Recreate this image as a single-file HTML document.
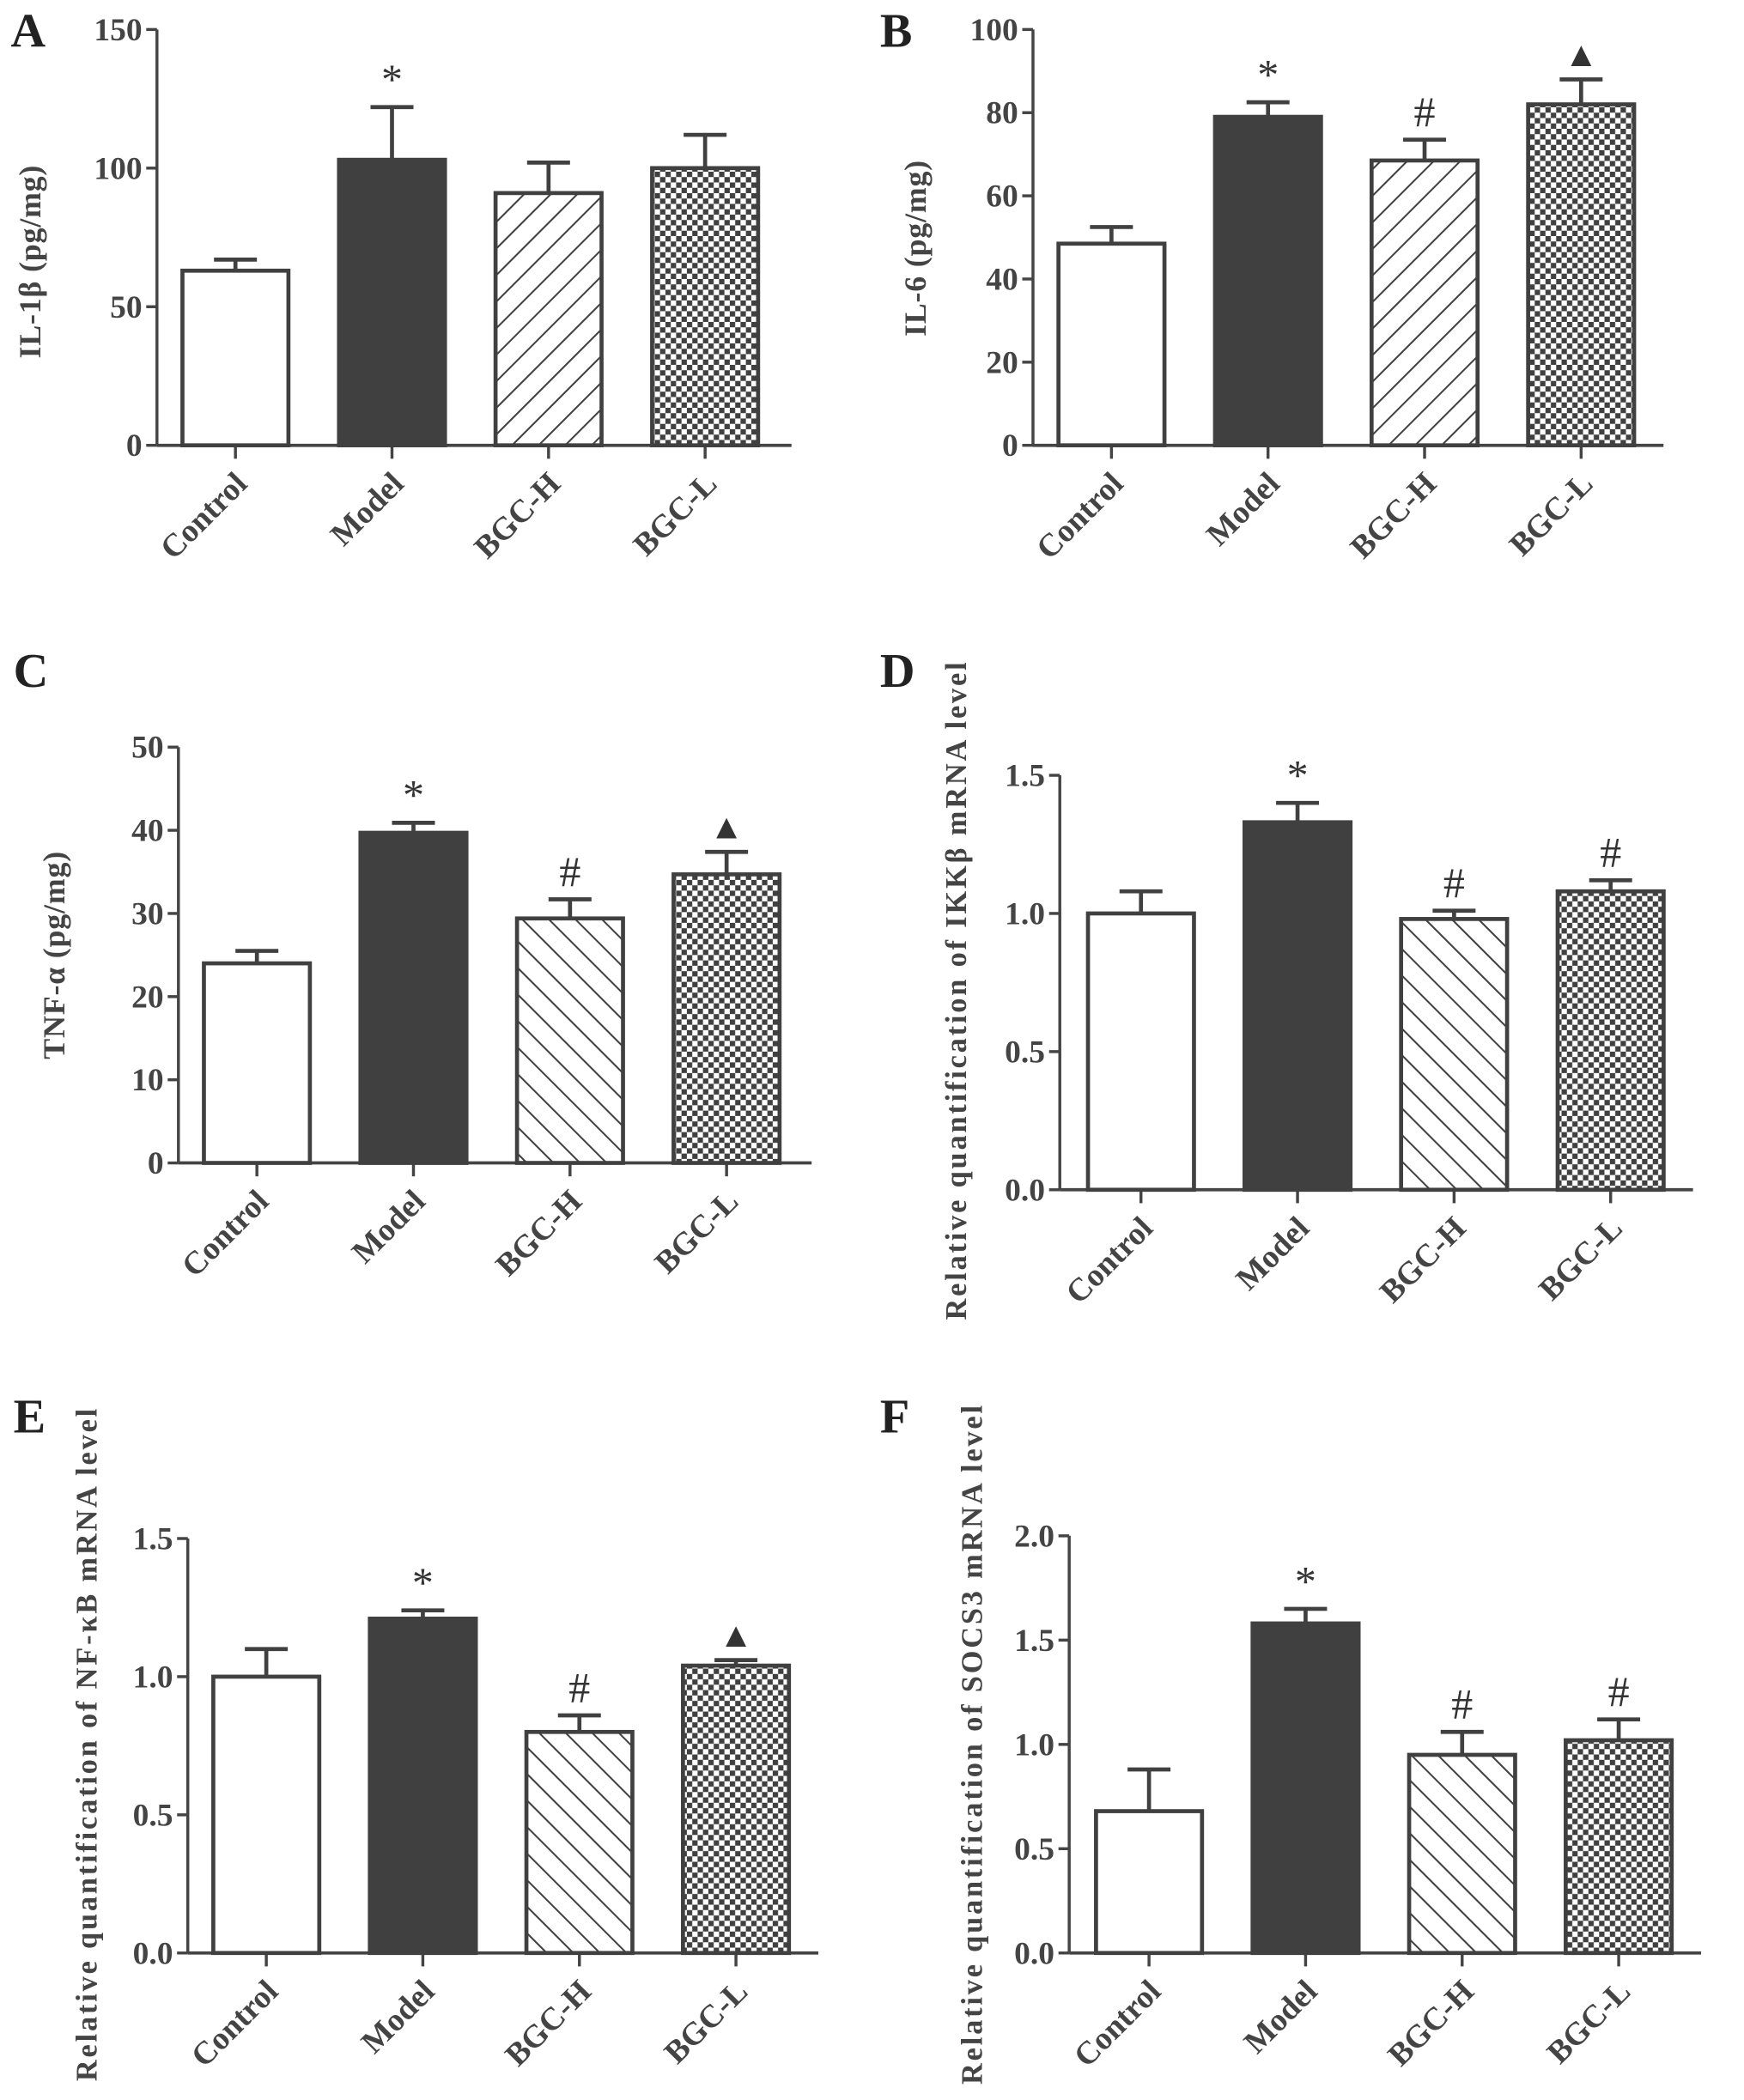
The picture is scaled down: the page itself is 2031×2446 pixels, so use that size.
<!DOCTYPE html>
<html><head><meta charset="utf-8"><style>
html,body{margin:0;padding:0;background:#fff}
svg{display:block}
text{font-family:"Liberation Serif",serif;fill:#444;font-weight:bold}
</style></head><body>
<svg id="fig" width="2031" height="2446" viewBox="0 0 1300 1565.6" preserveAspectRatio="none" xmlns="http://www.w3.org/2000/svg">
<defs>
<pattern id="hatchF" patternUnits="userSpaceOnUse" width="14" height="14" patternTransform="rotate(45)"><rect width="14" height="14" fill="#fff"/><line x1="0" y1="0" x2="0" y2="14" stroke="#404040" stroke-width="2.6"/></pattern>
<pattern id="hatchB" patternUnits="userSpaceOnUse" width="14" height="14" patternTransform="rotate(-45)"><rect width="14" height="14" fill="#fff"/><line x1="0" y1="0" x2="0" y2="14" stroke="#404040" stroke-width="2.6"/></pattern>
<pattern id="check" patternUnits="userSpaceOnUse" width="8" height="8"><rect width="8" height="8" fill="#fff"/><rect width="4" height="4" fill="#404040"/><rect x="4" y="4" width="4" height="4" fill="#404040"/></pattern>
</defs>
</svg>
<script>
const categories = ["Control","Model","BGC-H","BGC-L"];
const valsA = [63, 103, 91, 100];
const errA = [4, 19, 11, 12];
const marksA = ["", "*", "", ""];
const ticksA = [0, 50, 100, 150];
const valsB = [48.5, 79, 68.5, 82];
const errB = [4, 3.5, 5, 6];
const marksB = ["", "*", "#", "▲"];
const ticksB = [0, 20, 40, 60, 80, 100];
const valsC = [24, 39.7, 29.4, 34.7];
const errC = [1.5, 1.2, 2.3, 2.7];
const marksC = ["", "*", "#", "▲"];
const ticksC = [0, 10, 20, 30, 40, 50];
const valsD = [1.0, 1.33, 0.98, 1.08];
const errD = [0.08, 0.07, 0.03, 0.04];
const marksD = ["", "*", "#", "#"];
const ticksD = [0, 0.5, 1.0, 1.5];
const valsE = [1.0, 1.21, 0.80, 1.04];
const errE = [0.1, 0.03, 0.06, 0.02];
const marksE = ["", "*", "#", "▲"];
const ticksE = [0, 0.5, 1.0, 1.5];
const valsF = [0.68, 1.58, 0.95, 1.02];
const errF = [0.2, 0.07, 0.11, 0.1];
const marksF = ["", "*", "#", "#"];
const ticksF = [0, 0.5, 1.0, 1.5, 2.0];

const svg = document.getElementById('fig');
const NS = "http://www.w3.org/2000/svg";
function mk(tag, attrs, parent){const e=document.createElementNS(NS,tag);for(const k in attrs)e.setAttribute(k,attrs[k]);(parent||svg).appendChild(e);return e;}

const panels = [
 {id:"a",letter:"A",lx:8,ly:35,ax:117,top:22,bot:332,bar0:136,end:590,vals:valsA,err:errA,marks:marksA,ticks:ticksA,dec:0,title:"IL-1β  (pg/mg)",tx:30,tc:195,hatch:"hatchF"},
 {id:"b",letter:"B",lx:656,ly:35,ax:770,top:22,bot:332,bar0:789,end:1240,vals:valsB,err:errB,marks:marksB,ticks:ticksB,dec:0,title:"IL-6  (pg/mg)",tx:690,tc:185,hatch:"hatchF"},
 {id:"c",letter:"C",lx:10,ly:512,ax:133,top:557,bot:867,bar0:152,end:605,vals:valsC,err:errC,marks:marksC,ticks:ticksC,dec:0,title:"TNF-α  (pg/mg)",tx:48,tc:712,hatch:"hatchB"},
 {id:"d",letter:"D",lx:656,ly:512,ax:790,top:578,bot:887,bar0:811,end:1262,vals:valsD,err:errD,marks:marksD,ticks:ticksD,dec:1,title:"Relative quantification of  IKKβ mRNA level",tx:720,tc:738,hatch:"hatchB"},
 {id:"e",letter:"E",lx:10,ly:1068,ax:140,top:1147,bot:1456,bar0:159,end:610,vals:valsE,err:errE,marks:marksE,ticks:ticksE,dec:1,title:"Relative quantification of NF-κB mRNA level",tx:72,tc:1300,hatch:"hatchB"},
 {id:"f",letter:"F",lx:656,ly:1068,ax:797,top:1145,bot:1456,bar0:817,end:1268,vals:valsF,err:errF,marks:marksF,ticks:ticksF,dec:1,title:"Relative quantification of SOCS3 mRNA level",tx:732,tc:1300,hatch:"hatchB"}
];
const fills = ["#fff","#404040",null,"url(#check)"];
const barW = 79, step = 116.7;

panels.forEach(p=>{
  const g = mk('g',{});
  
  
  const maxV = p.ticks[p.ticks.length-1];
  const y = v => p.bot - (v/maxV)*(p.bot-p.top);
  const xc = i => p.bar0 + barW/2 + i*step;
  const L = mk('text',{x:p.lx,y:p.ly,'font-size':36,style:'fill:#222'},g);
  L.textContent=p.letter;
  
  
  const ya = mk('line',{x1:p.ax,y1:p.top,x2:p.ax,y2:p.bot,stroke:'#444','stroke-width':2.2},g);
  
  
  p.ticks.forEach(t=>{
    mk('line',{x1:p.ax-8,y1:y(t),x2:p.ax,y2:y(t),stroke:'#444','stroke-width':2.2},g);
    const tl = mk('text',{x:p.ax-11,y:y(t)+8,'font-size':24,'text-anchor':'end'},g);
    tl.textContent = t.toFixed(p.dec);
    
    
  });
  const cy = p.tc;
  const yt = mk('text',{x:p.tx,y:cy,'font-size':p.dec?22:23,'text-anchor':'middle',transform:`rotate(-90 ${p.tx} ${cy})`,'letter-spacing':p.dec?1.8:0.5},g);
  yt.textContent = p.title;
  
  
  const xa = mk('line',{x1:p.ax,y1:p.bot,x2:p.end,y2:p.bot,stroke:'#444','stroke-width':2.4},g);
  
  
  categories.forEach((c,i)=>{
    const cx = xc(i);
    mk('line',{x1:cx,y1:p.bot,x2:cx,y2:p.bot+10,stroke:'#444','stroke-width':2.2},g);
    const lx = cx+10, ly = p.bot+30;
    const cl = mk('text',{x:lx,y:ly,'font-size':24,'text-anchor':'end',transform:`rotate(-45 ${lx} ${ly})`},g);
    cl.textContent = c;
    
    
    const v = p.vals[i], e = p.err[i];
    const x0 = p.bar0 + i*step;
    const top = y(v), et = y(v+e);
    const el = mk('line',{x1:cx,y1:top,x2:cx,y2:et,stroke:'#404040','stroke-width':3},g);
    
    
    const ec = mk('line',{x1:cx-16,y1:et,x2:cx+16,y2:et,stroke:'#404040','stroke-width':3},g);
    
    
    const b = mk('rect',{x:x0,y:top,width:barW,height:p.bot-top,fill:fills[i]||('url(#'+p.hatch+')'),stroke:'#404040','stroke-width':3},g);
    
    
    if(p.marks[i]){
      const m = mk('text',{x:cx,y:et-10,'font-size':p.marks[i]==='▲'?26:32,'text-anchor':'middle',style:'fill:#333;font-weight:normal'},g);
      m.textContent = p.marks[i];
      
      
    }
  });
});
</script>
</body></html>
